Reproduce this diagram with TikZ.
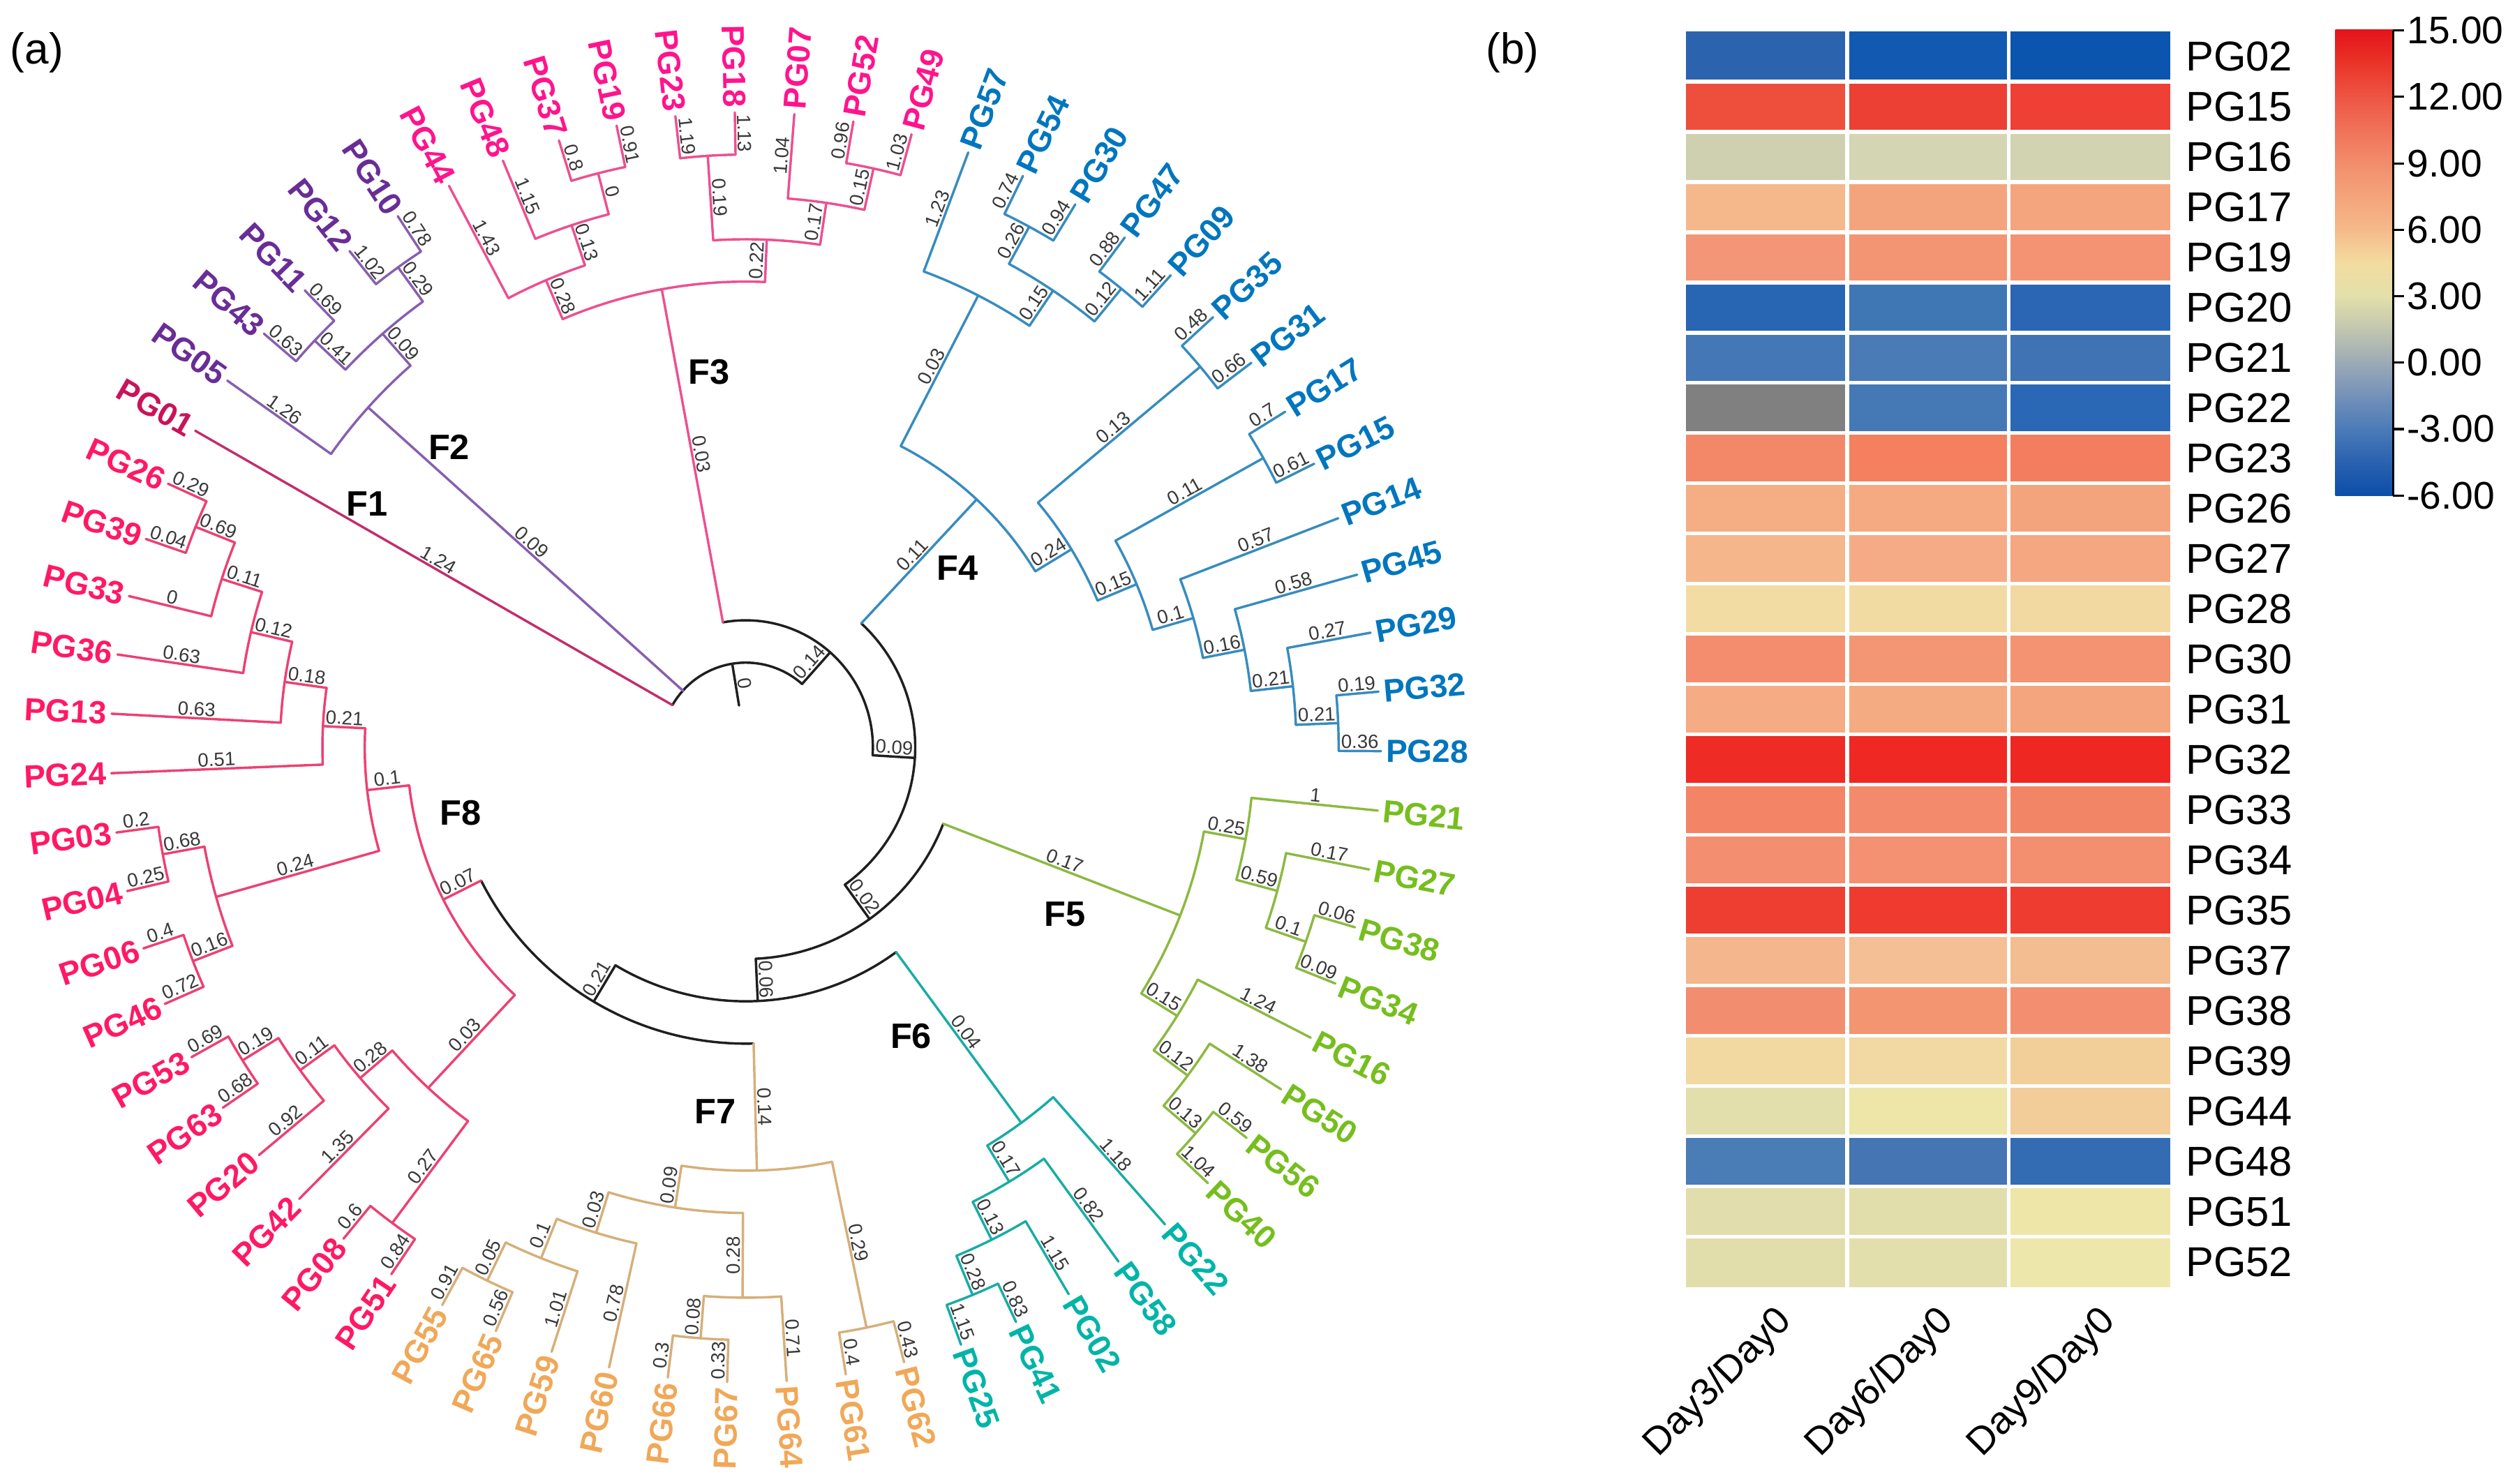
\documentclass[tikz,border=0pt]{standalone}
\usepackage{fontspec}
\setmainfont{Liberation Sans}
\definecolor{c1t}{RGB}{200,20,90}\definecolor{c1l}{RGB}{195,45,110}
\definecolor{c2t}{RGB}{105,45,150}\definecolor{c2l}{RGB}{135,95,175}
\definecolor{c3t}{RGB}{255,20,140}\definecolor{c3l}{RGB}{236,80,145}
\definecolor{c4t}{RGB}{0,118,190}\definecolor{c4l}{RGB}{55,140,190}
\definecolor{c5t}{RGB}{118,190,30}\definecolor{c5l}{RGB}{140,185,65}
\definecolor{c6t}{RGB}{0,180,168}\definecolor{c6l}{RGB}{25,172,165}
\definecolor{c7t}{RGB}{240,168,88}\definecolor{c7l}{RGB}{214,175,122}
\definecolor{c8t}{RGB}{255,25,100}\definecolor{c8l}{RGB}{236,65,115}
% radial branch: idx, parent height, child height, label
\newcommand\BR[4]{%
  \pgfmathsetmacro\tA{150.1-5.3731*(#1)}%
  \pgfmathsetmacro\rA{396-26.4*(#2)}%
  \pgfmathsetmacro\rB{396-26.4*(#3)}%
  \draw (\tA:\rA) -- (\tA:\rB) node[blab]{#4};}
% arc of an inner node: idx from, idx to, height
\newcommand\AR[3]{%
  \pgfmathsetmacro\tA{150.1-5.3731*(#1)}%
  \pgfmathsetmacro\tB{150.1-5.3731*(#2)}%
  \pgfmathsetmacro\rA{396-26.4*(#3)}%
  \draw (\tA:\rA) arc[start angle=\tA, end angle=\tB, radius=\rA];}
% leaf: name, idx, parent height, label, side, text colour
\newcommand\LF[6]{%
  \pgfmathsetmacro\tA{150.1-5.3731*(#2)}%
  \pgfmathsetmacro\rA{396-26.4*(#3)}%
  \coordinate (t#1) at (\tA:396);
  \draw (\tA:\rA) -- (t#1) node[blab]{#4};
  \ifx R#5\pgfmathsetmacro\tR{\tA}\def\anc{west}\else\pgfmathsetmacro\tR{\tA+180}\def\anc{east}\fi
  \node[leaf, anchor=\anc, rotate=\tR, text=#6] (#1) at (t#1) {#1};}
\begin{document}
\begin{tikzpicture}[x=1pt,y=1pt, line width=1.5pt, line cap=round, line join=round,
  blab/.style={midway, sloped, above, inner sep=0.8pt, font=\fontsize{12}{13}\selectfont, text=black!78},
  leaf/.style={inner sep=2.5pt, font=\fontsize{20}{22}\selectfont\bfseries},
  clade/.style={font=\fontsize{22}{24}\selectfont\bfseries, text=black},
  hmlab/.style={anchor=west, inner sep=0pt, font=\fontsize{26}{28}\selectfont},
  cblab/.style={anchor=west, inner sep=0pt, font=\fontsize{24}{26}\selectfont},
  daylab/.style={anchor=east, rotate=45, inner sep=0pt, font=\fontsize{24}{26}\selectfont},
  panel/.style={font=\fontsize{27}{29}\selectfont}]
\useasboundingbox (0,0) rectangle (1568,-925);

\begin{scope}[shift={(465,-466)}]
% backbone
\begin{scope}[color=black!88]
\AR{0}{18.9275}{13}
\AR{9.25}{28.605}{12}
\AR{19.1797}{38.0303}{11}
\AR{31.875}{44.1855}{10}
\AR{37.9375}{50.4336}{9}
\AR{44.4063}{56.4609}{8}
\BR{9.4638}{14}{13}{0}
\BR{18.9275}{13}{12}{0.14}
\BR{28.605}{12}{11}{0.09}
\BR{38.0303}{11}{10}{0.02}
\BR{44.1855}{10}{9}{0.06}
\BR{50.4336}{9}{8}{0.21}
\end{scope}
% F1
\begin{scope}[color=c1l]
\LF{PG01}{0}{13}{1.24}{L}{c1t}
\end{scope}
% F2
\begin{scope}[color=c2l]
\BR{2.25}{13}{3}{0.09}
\AR{1}{3.5}{3}
\BR{3.5}{3}{2}{0.09}
\AR{2.5}{4.5}{2}
\BR{2.5}{2}{1}{0.41}
\BR{4.5}{2}{1}{0.29}
\AR{2}{3}{1}
\AR{4}{5}{1}
\LF{PG05}{1}{3}{1.26}{L}{c2t}
\LF{PG43}{2}{1}{0.63}{L}{c2t}
\LF{PG11}{3}{1}{0.69}{L}{c2t}
\LF{PG12}{4}{1}{1.02}{L}{c2t}
\LF{PG10}{5}{1}{0.78}{L}{c2t}
\end{scope}
% F3
\begin{scope}[color=c3l]
\BR{9.25}{12}{4}{0.03}
\AR{6.875}{11.625}{4}
\BR{6.875}{4}{3}{0.28}
\AR{6}{7.75}{3}
\BR{7.75}{3}{2}{0.13}
\AR{7}{8.5}{2}
\BR{8.5}{2}{1}{0}
\AR{8}{9}{1}
\BR{11.625}{4}{3}{0.22}
\AR{10.5}{12.75}{3}
\BR{10.5}{3}{1}{0.19}
\AR{10}{11}{1}
\BR{12.75}{3}{2}{0.17}
\AR{12}{13.5}{2}
\BR{13.5}{2}{1}{0.15}
\AR{13}{14}{1}
\LF{PG44}{6}{3}{1.43}{L}{c3t}
\LF{PG48}{7}{2}{1.15}{L}{c3t}
\LF{PG37}{8}{1}{0.8}{L}{c3t}
\LF{PG19}{9}{1}{0.91}{L}{c3t}
\LF{PG23}{10}{1}{1.19}{L}{c3t}
\LF{PG18}{11}{1}{1.13}{L}{c3t}
\LF{PG07}{12}{2}{1.04}{R}{c3t}
\LF{PG52}{13}{1}{0.96}{R}{c3t}
\LF{PG49}{14}{1}{1.03}{R}{c3t}
\end{scope}
% F4
\begin{scope}[color=c4l]
\BR{19.1797}{11}{7}{0.11}
\AR{16.25}{22.1094}{7}
\BR{16.25}{7}{3}{0.03}
\AR{15}{17.5}{3}
\BR{17.5}{3}{2}{0.15}
\AR{16.5}{18.5}{2}
\BR{16.5}{2}{1}{0.26}
\BR{18.5}{2}{1}{0.12}
\AR{16}{17}{1}
\AR{18}{19}{1}
\BR{22.1094}{7}{6}{0.24}
\AR{20.5}{23.7188}{6}
\BR{20.5}{6}{1}{0.13}
\AR{20}{21}{1}
\BR{23.7188}{6}{5}{0.15}
\AR{22.5}{24.9375}{5}
\BR{22.5}{5}{1}{0.11}
\AR{22}{23}{1}
\BR{24.9375}{5}{4}{0.1}
\AR{24}{25.875}{4}
\BR{25.875}{4}{3}{0.16}
\AR{25}{26.75}{3}
\BR{26.75}{3}{2}{0.21}
\AR{26}{27.5}{2}
\BR{27.5}{2}{1}{0.21}
\AR{27}{28}{1}
\LF{PG57}{15}{3}{1.23}{R}{c4t}
\LF{PG54}{16}{1}{0.74}{R}{c4t}
\LF{PG30}{17}{1}{0.94}{R}{c4t}
\LF{PG47}{18}{1}{0.88}{R}{c4t}
\LF{PG09}{19}{1}{1.11}{R}{c4t}
\LF{PG35}{20}{1}{0.48}{R}{c4t}
\LF{PG31}{21}{1}{0.66}{R}{c4t}
\LF{PG17}{22}{1}{0.7}{R}{c4t}
\LF{PG15}{23}{1}{0.61}{R}{c4t}
\LF{PG14}{24}{4}{0.57}{R}{c4t}
\LF{PG45}{25}{3}{0.58}{R}{c4t}
\LF{PG29}{26}{2}{0.27}{R}{c4t}
\LF{PG32}{27}{1}{0.19}{R}{c4t}
\LF{PG28}{28}{1}{0.36}{R}{c4t}
\end{scope}
% F5
\begin{scope}[color=c5l]
\BR{31.875}{10}{4}{0.17}
\AR{29.875}{33.875}{4}
\BR{29.875}{4}{3}{0.25}
\AR{29}{30.75}{3}
\BR{30.75}{3}{2}{0.59}
\AR{30}{31.5}{2}
\BR{31.5}{2}{1}{0.1}
\AR{31}{32}{1}
\BR{33.875}{4}{3}{0.15}
\AR{33}{34.75}{3}
\BR{34.75}{3}{2}{0.12}
\AR{34}{35.5}{2}
\BR{35.5}{2}{1}{0.13}
\AR{35}{36}{1}
\LF{PG21}{29}{3}{1}{R}{c5t}
\LF{PG27}{30}{2}{0.17}{R}{c5t}
\LF{PG38}{31}{1}{0.06}{R}{c5t}
\LF{PG34}{32}{1}{0.09}{R}{c5t}
\LF{PG16}{33}{3}{1.24}{R}{c5t}
\LF{PG50}{34}{2}{1.38}{R}{c5t}
\LF{PG56}{35}{1}{0.59}{R}{c5t}
\LF{PG40}{36}{1}{1.04}{R}{c5t}
\end{scope}
% F6
\begin{scope}[color=c6l]
\BR{37.9375}{9}{4}{0.04}
\AR{37}{38.875}{4}
\BR{38.875}{4}{3}{0.17}
\AR{38}{39.75}{3}
\BR{39.75}{3}{2}{0.13}
\AR{39}{40.5}{2}
\BR{40.5}{2}{1}{0.28}
\AR{40}{41}{1}
\LF{PG22}{37}{4}{1.18}{R}{c6t}
\LF{PG58}{38}{3}{0.82}{R}{c6t}
\LF{PG02}{39}{2}{1.15}{R}{c6t}
\LF{PG41}{40}{1}{0.83}{R}{c6t}
\LF{PG25}{41}{1}{1.15}{R}{c6t}
\end{scope}
% F7
\begin{scope}[color=c7l]
\BR{44.4063}{8}{5}{0.14}
\AR{42.5}{46.3125}{5}
\BR{42.5}{5}{1}{0.29}
\AR{42}{43}{1}
\BR{46.3125}{5}{4}{0.09}
\AR{44.75}{47.875}{4}
\BR{44.75}{4}{2}{0.28}
\AR{44}{45.5}{2}
\BR{45.5}{2}{1}{0.08}
\AR{45}{46}{1}
\BR{47.875}{4}{3}{0.03}
\AR{47}{48.75}{3}
\BR{48.75}{3}{2}{0.1}
\AR{48}{49.5}{2}
\BR{49.5}{2}{1}{0.05}
\AR{49}{50}{1}
\LF{PG62}{42}{1}{0.43}{R}{c7t}
\LF{PG61}{43}{1}{0.4}{R}{c7t}
\LF{PG64}{44}{2}{0.71}{R}{c7t}
\LF{PG67}{45}{1}{0.33}{L}{c7t}
\LF{PG66}{46}{1}{0.3}{L}{c7t}
\LF{PG60}{47}{3}{0.78}{L}{c7t}
\LF{PG59}{48}{2}{1.01}{L}{c7t}
\LF{PG65}{49}{1}{0.56}{L}{c7t}
\LF{PG55}{50}{1}{0.91}{L}{c7t}
\end{scope}
% F8
\begin{scope}[color=c8l]
\BR{56.4609}{8}{7}{0.07}
\AR{52.6875}{60.2344}{7}
\BR{52.6875}{7}{4}{0.03}
\AR{51.5}{53.875}{4}
\BR{51.5}{4}{1}{0.27}
\AR{51}{52}{1}
\BR{53.875}{4}{3}{0.28}
\AR{53}{54.75}{3}
\BR{54.75}{3}{2}{0.11}
\AR{54}{55.5}{2}
\BR{55.5}{2}{1}{0.19}
\AR{55}{56}{1}
\BR{60.2344}{7}{6}{0.1}
\AR{58.5}{61.9688}{6}
\BR{58.5}{6}{2}{0.24}
\AR{57.5}{59.5}{2}
\BR{57.5}{2}{1}{0.16}
\BR{59.5}{2}{1}{0.68}
\AR{57}{58}{1}
\AR{59}{60}{1}
\BR{61.9688}{6}{5}{0.21}
\AR{61}{62.9375}{5}
\BR{62.9375}{5}{4}{0.18}
\AR{62}{63.875}{4}
\BR{63.875}{4}{3}{0.12}
\AR{63}{64.75}{3}
\BR{64.75}{3}{2}{0.11}
\AR{64}{65.5}{2}
\BR{65.5}{2}{1}{0.69}
\AR{65}{66}{1}
\LF{PG51}{51}{1}{0.84}{L}{c8t}
\LF{PG08}{52}{1}{0.6}{L}{c8t}
\LF{PG42}{53}{3}{1.35}{L}{c8t}
\LF{PG20}{54}{2}{0.92}{L}{c8t}
\LF{PG63}{55}{1}{0.68}{L}{c8t}
\LF{PG53}{56}{1}{0.69}{L}{c8t}
\LF{PG46}{57}{1}{0.72}{L}{c8t}
\LF{PG06}{58}{1}{0.4}{L}{c8t}
\LF{PG04}{59}{1}{0.25}{L}{c8t}
\LF{PG03}{60}{1}{0.2}{L}{c8t}
\LF{PG24}{61}{5}{0.51}{L}{c8t}
\LF{PG13}{62}{4}{0.63}{L}{c8t}
\LF{PG36}{63}{3}{0.63}{L}{c8t}
\LF{PG33}{64}{2}{0}{L}{c8t}
\LF{PG39}{65}{1}{0.04}{L}{c8t}
\LF{PG26}{66}{1}{0.29}{L}{c8t}
\end{scope}
\end{scope}

% clade labels
\node[clade] (F1) at (229,-314) {F1};
\node[clade] (F2) at (280,-279) {F2};
\node[clade] (F3) at (442,-232) {F3};
\node[clade] (F4) at (597,-354) {F4};
\node[clade] (F5) at (664,-570) {F5};
\node[clade] (F6) at (568,-646) {F6};
\node[clade] (F7) at (446,-693) {F7};
\node[clade] (F8) at (287,-507) {F8};

% panel letters
\node[panel] (pa) at (23,-33) {(a)};
\node[panel] (pb) at (943,-33) {(b)};

% heatmap
\foreach \r/\lab/\ca/\cb/\cc in {
 0/PG02/2C63AE/1259B2/0B55AF, 1/PG15/EE4F3D/EC4034/EE4035, 2/PG16/CFD0B0/D4D5B3/D1D3B1,
 3/PG17/F5B88A/F4A47C/F4A57E, 4/PG19/F39677/F39573/F39374, 5/PG20/2866B3/3F77B5/2A66B4,
 6/PG21/4477B5/4A7BB6/3F73B4, 7/PG22/808080/4579B6/2A68B6, 8/PG23/F28868/F48060/F37E5F,
 9/PG26/F5AE84/F5AA82/F4A47D, 10/PG27/F5B68C/F5AC86/F4A780, 11/PG28/F2DCA4/F2DBA3/F2D8A1,
 12/PG30/F38D6E/F39674/F39372, 13/PG31/F5AC84/F5AB82/F4A57E, 14/PG32/EE2B25/F02824/EF2723,
 15/PG33/F38566/F38A6B/F38567, 16/PG34/F38F70/F39172/F38E6F, 17/PG35/EE3D31/EF3A2F/EF3C31,
 18/PG37/F4B68C/F4BF94/F4BC91, 19/PG38/F38D6F/F39571/F38F70, 20/PG39/F2D9A1/F2D8A2/F2CF99,
 21/PG44/E3DFAC/EEE5A9/F2CC99, 22/PG48/4A7CB6/4575B2/346CB3, 23/PG51/E2DDAC/E2DEAC/EEE6A8,
 24/PG52/E2DEAC/E3DFAD/EEE7AC}{
  \pgfmathsetmacro\yt{-(19.5+31.32*\r)}
  \pgfmathsetmacro\yb{\yt-31.32}
  \pgfmathsetmacro\ym{\yt-15.66}
  \edef\tmp{\noexpand\definecolor{hA}{HTML}{\ca}\noexpand\definecolor{hB}{HTML}{\cb}\noexpand\definecolor{hC}{HTML}{\cc}}\tmp
  \fill[hA] (1051,\yt) rectangle (1151.7,\yb);
  \fill[hB] (1151.7,\yt) rectangle (1252.3,\yb);
  \fill[hC] (1252.3,\yt) rectangle (1353,\yb);
  \node[hmlab] (h\lab) at (1362,\ym) {\lab};
}
\begin{scope}[white, line width=2.4pt, line cap=butt]
\foreach \r in {1,...,24}{
  \pgfmathsetmacro\yt{-(19.5+31.32*\r)}
  \draw (1051,\yt) -- (1353,\yt);}
\draw (1151.7,-19.5) -- (1151.7,-802.5);
\draw (1252.3,-19.5) -- (1252.3,-802.5);
\end{scope}

% day labels
\node[daylab] (d3) at (1114,-820) {Day3/Day0};
\node[daylab] (d6) at (1215,-820) {Day6/Day0};
\node[daylab] (d9) at (1316,-820) {Day9/Day0};

% colour bar
\foreach \va/\ca/\vb/\cb in {-6/0C4EA8/-4.5/2A62AF, -4.5/2A62AF/-3/4C7BB8, -3/4C7BB8/-1.5/7591B9,
  -1.5/7591B9/0/9CAAB5, 0/9CAAB5/1.5/C2C6AF, 1.5/C2C6AF/3/E3E0AA, 3/E3E0AA/4.5/F3DCA0,
  4.5/F3DCA0/6/F5B98A, 6/F5B98A/7.5/F4A47A, 7.5/F4A47A/9/F28D6C, 9/F28D6C/10.5/F07258,
  10.5/F07258/12/EE5544, 12/EE5544/13.5/EA3429, 13.5/EA3429/15/E4141A}{
  \pgfmathsetmacro\ya{-(309-(\va+6)*13.8095)}
  \pgfmathsetmacro\yc{-(309-(\vb+6)*13.8095)+0.5}
  \edef\tmp{\noexpand\definecolor{cA}{HTML}{\ca}\noexpand\definecolor{cB}{HTML}{\cb}}\tmp
  \shade[bottom color=cA, top color=cB] (1456,\ya) rectangle (1492,\yc);
}
\draw[line width=1.4pt, line cap=butt] (1492,-19) -- (1492,-309);
\foreach \k/\t in {0/15.00,1/12.00,2/9.00,3/6.00,4/3.00,5/0.00,6/-3.00,7/-6.00}{
  \pgfmathsetmacro\yk{-(19+41.4286*\k)}
  \draw[line width=1.4pt, line cap=butt] (1492,\yk) -- (1499,\yk);
  \node[cblab] (cb\k) at (1500,\yk) {\t};
}
\end{tikzpicture}
\end{document}
